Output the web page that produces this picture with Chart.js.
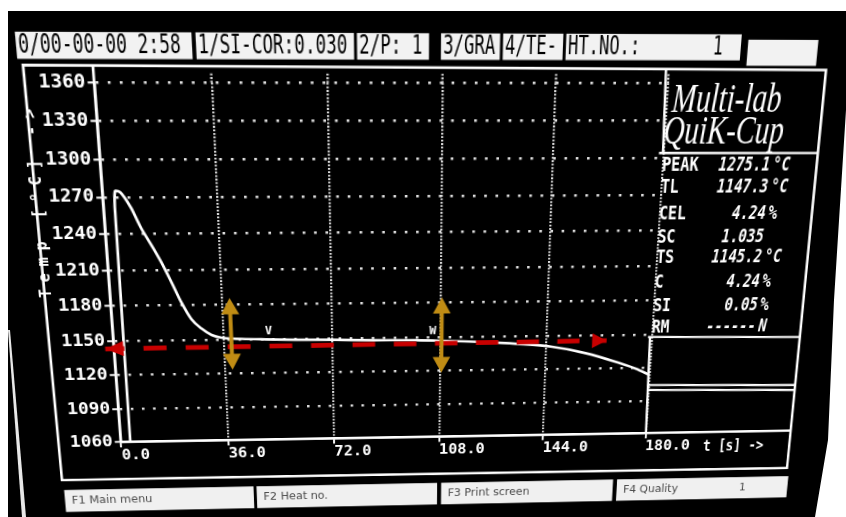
<!DOCTYPE html>
<html>
<head>
<meta charset="utf-8">
<title>Multi-lab QuiK-Cup</title>
<script src="https://cdn.jsdelivr.net/npm/chart.js@4.4.1/dist/chart.umd.min.js"></script>
<style>
  html, body { margin: 0; padding: 0; width: 846px; height: 517px; overflow: hidden; background: #fff; }
  #bezel { position: absolute; left: 0; top: 0; width: 846px; height: 517px; background: #000;
           clip-path: polygon(8px 11px, 846px 11px, 846px 110px, 834px 300px, 828px 440px, 815px 517px, 8px 517px); }
  #rim { position: absolute; left: 0; top: 0; width: 846px; height: 517px; background: #e8e8e8;
         clip-path: polygon(8px 330px, 10px 330px, 26px 517px, 22px 517px); }
  #trace { position: absolute; left: 0; top: 0; width: 846px; height: 570px; }
</style>
</head>
<body>
<div id="bezel"></div>
<div id="rim"></div>
<canvas id="trace" width="846" height="570"></canvas>
<script>
// ---------------- data ----------------
// cooling curve of the cup: time [s] and temperature [°C]
const timeS = [3.2, 3.6, 4.2, 5.6, 8.6, 11.4, 14.4, 17.2, 20.1, 23.0, 25.9, 29.0, 32.2, 35.4,
               42, 50, 60, 72, 86, 100, 108, 122, 134, 146, 157.5, 169, 175, 180];
const tempC = [1060, 1262, 1275.1, 1274, 1261.7, 1245, 1230.5, 1216.3, 1199.4, 1181.8, 1167.8, 1159.7, 1154, 1151.5,
               1150.3, 1149.6, 1149, 1148.5, 1147.8, 1147.3, 1146.6, 1145, 1143, 1140, 1134, 1125, 1119.5, 1113.5];
const timeTicks = [0, 36, 72, 108, 144, 180];
const tempTicks = [1060, 1090, 1120, 1150, 1180, 1210, 1240, 1270, 1300, 1330, 1360];

// liquidus arrow (left tip, right tip)
const tlTime = [-2.8, 164.5];
const tlTemp = [1143, 1145];
// arrest brackets
const arrestTime = [38.6, 108.5];
const arrestHigh = [1185.7, 1184.4];
const arrestLow  = [1123.4, 1118.2];
// small tags on the curve
const tagTime = [51, 105.5];
const tagTemp = [1157, 1155];
const tagText = ['V', 'W'];

// result table
const statNames  = ['PEAK', 'TL', 'CEL', 'SC', 'TS', 'C', 'SI', 'RM'];
const statValues = ['1275.1', '1147.3', '4.24', '1.035', '1145.2', '4.24', '0.05', '------'];
const statUnits  = ['°C', '°C', '%', '', '°C', '%', '%', 'N'];
const headerItems = ['0/00-00-00 2:58', '1/SI-COR:0.030', '2/P: 1', '3/GRA', '4/TE-', 'HT.NO.:', ''];
const heatNo = '1';
const keyItems = ['F1 Main menu', 'F2 Heat no.', 'F3 Print screen', 'F4 Quality'];
const qualityNo = '1';

// ---------------- monitor face geometry ----------------
// The display face is drawn in perspective: a monitor seen slightly from below and from the left.
const OX = 423, OY = 262, DEPTH = 1000, TILT_X = -14, TILT_Y = 3, ROLL = 0.27;
const canvas = document.getElementById('trace');
canvas.style.transformOrigin = OX + 'px ' + OY + 'px';
canvas.style.transform = `rotate(${ROLL}deg) perspective(${DEPTH}px) rotateX(${TILT_X}deg) rotateY(${TILT_Y}deg)`;

const rad = Math.PI / 180;
const sa = Math.sin(TILT_X * rad), ca = Math.cos(TILT_X * rad);
const sb = Math.sin(TILT_Y * rad), cb = Math.cos(TILT_Y * rad);
const H = [[cb, 0, 0], [sa * sb, ca, 0], [ca * sb / DEPTH, -sa / DEPTH, 1]];
function inv3(m) {
  const [a, b, c] = m[0], [d, e, f] = m[1], [g, h, i] = m[2];
  const A = e * i - f * h, B = -(d * i - f * g), C = d * h - e * g;
  const det = a * A + b * B + c * C;
  return [
    [A / det, -(b * i - c * h) / det, (b * f - c * e) / det],
    [B / det, (a * i - c * g) / det, -(a * f - c * d) / det],
    [C / det, -(a * h - b * g) / det, (a * e - b * d) / det]
  ];
}
const HI = inv3(H);
// screen position on the face -> drawing position on the canvas
function T(x, y) {
  const X = x - OX, Y = y - OY;
  const cr = Math.cos(-ROLL * rad), sr = Math.sin(-ROLL * rad);
  const Xr = X * cr - Y * sr, Yr = X * sr + Y * cr;
  const u = HI[0][0] * Xr + HI[0][1] * Yr + HI[0][2];
  const v = HI[1][0] * Xr + HI[1][1] * Yr + HI[1][2];
  const w = HI[2][0] * Xr + HI[2][1] * Yr + HI[2][2];
  return { x: OX + u / w, y: OY + v / w };
}

// layout on the face
const FRAME = [[23, 65], [826, 70], [787, 468], [62, 480]];
const HEADER_X = [[16, 192], [196, 354], [357, 429], [441, 500], [503, 563], [566, 741], [748, 818]];
const KEY_X = [[65, 254], [257, 437], [441, 612], [616, 786]];
const STAT_Y = [166, 188, 214, 237, 258, 282, 306, 327];

const cBL = T(120, 443), cTL = T(95, 82.5), cBR = T(646, 432);
const AREA = { left: (cBL.x + cTL.x) / 2, top: cTL.y, right: cBR.x, bottom: (cBL.y + cBR.y) / 2 };
const YW = 60, XH = 30;

const WHITE = '#ffffff', ROW_DOTS = '#e0e0e0', COL_DOTS = '#dadada';
const RED = '#c80000', GOLD = '#c08c14';
const MONO = '"DejaVu Sans Mono", "Liberation Mono", monospace';

function seg(ctx, a, b) {
  const p = T(a[0], a[1]), q = T(b[0], b[1]);
  ctx.beginPath(); ctx.moveTo(p.x, p.y); ctx.lineTo(q.x, q.y); ctx.stroke();
}
function word(ctx, s, x, y, font, color, sx, align, base) {
  ctx.save();
  ctx.translate(x, y); ctx.scale(sx, 1);
  ctx.font = font; ctx.fillStyle = color;
  ctx.textAlign = align || 'left'; ctx.textBaseline = base || 'middle';
  ctx.fillText(s, 0, 0);
  ctx.restore();
}
function tri(ctx, a, b, c, color) {
  ctx.beginPath(); ctx.moveTo(a.x, a.y); ctx.lineTo(b.x, b.y); ctx.lineTo(c.x, c.y); ctx.closePath();
  ctx.fillStyle = color; ctx.fill();
}

// frame, panel rules and grid extensions
const facePlugin = {
  id: 'face',
  beforeDatasetsDraw(chart) {
    const ctx = chart.ctx, a = chart.chartArea, xs = chart.scales.x;
    ctx.save();
    // time grid continues up to the frame
    ctx.strokeStyle = COL_DOTS; ctx.lineWidth = 2.2; ctx.setLineDash([1.8, 1.6]);
    const gTop = T(400, 73).y;
    timeTicks.slice(1).forEach(v => {
      const x = xs.getPixelForValue(v);
      ctx.beginPath(); ctx.moveTo(x, a.top); ctx.lineTo(x, gTop); ctx.stroke();
    });
    ctx.setLineDash([]);
    ctx.strokeStyle = WHITE; ctx.lineWidth = 2.6;
    // temperature axis up to the frame
    ctx.beginPath(); ctx.moveTo(a.left, a.bottom); ctx.lineTo(a.left, T(95, 66).y); ctx.stroke();
    // time axis on to the right edge
    const xr = T(790, 432);
    ctx.beginPath(); ctx.moveTo(a.left, a.bottom); ctx.lineTo(xr.x, a.bottom); ctx.stroke();
    // outer frame
    ctx.beginPath();
    FRAME.forEach((p, i) => { const q = T(p[0], p[1]); i ? ctx.lineTo(q.x, q.y) : ctx.moveTo(q.x, q.y); });
    ctx.closePath(); ctx.stroke();
    // right panel
    ctx.lineWidth = 2.4;
    seg(ctx, [666, 70], [663, 153]);
    seg(ctx, [659, 153], [818, 153]);
    seg(ctx, [648, 337], [800, 337]);
    seg(ctx, [648, 385], [796, 385]);
    seg(ctx, [647, 390], [795, 390]);
    seg(ctx, [650, 337], [646, 432]);
    ctx.restore();
  },
  afterDatasetsDraw(chart) {
    const ctx = chart.ctx, xs = chart.scales.x, ys = chart.scales.y;
    ctx.save();
    // liquidus arrow heads
    const pts = chart.getDatasetMeta(1).data;
    const p0 = pts[0], p1 = pts[1];
    const len = Math.hypot(p1.x - p0.x, p1.y - p0.y);
    const ux = (p1.x - p0.x) / len, uy = (p1.y - p0.y) / len, nx = -uy, ny = ux;
    const b0 = { x: p0.x + ux * 18, y: p0.y + uy * 18 };
    tri(ctx, p0, { x: b0.x + nx * 8, y: b0.y + ny * 8 }, { x: b0.x - nx * 8, y: b0.y - ny * 8 }, RED);
    const b1 = { x: p1.x - ux * 15, y: p1.y - uy * 15 };
    tri(ctx, p1, { x: b1.x + nx * 8, y: b1.y + ny * 8 }, { x: b1.x - nx * 8, y: b1.y - ny * 8 }, RED);
    // arrest brackets
    arrestTime.forEach((t, i) => {
      const x = xs.getPixelForValue(t);
      const yt = ys.getPixelForValue(arrestHigh[i]), yb = ys.getPixelForValue(arrestLow[i]);
      ctx.strokeStyle = GOLD; ctx.lineWidth = 4;
      ctx.beginPath(); ctx.moveTo(x, yt + 14); ctx.lineTo(x, yb - 14); ctx.stroke();
      tri(ctx, { x: x, y: yt }, { x: x - 9, y: yt + 17 }, { x: x + 9, y: yt + 17 }, GOLD);
      tri(ctx, { x: x, y: yb }, { x: x - 9, y: yb - 17 }, { x: x + 9, y: yb - 17 }, GOLD);
    });
    // tags
    tagTime.forEach((t, i) => {
      word(ctx, tagText[i], xs.getPixelForValue(t), ys.getPixelForValue(tagTemp[i]),
           'bold 13px ' + MONO, WHITE, 0.9, 'center', 'middle');
    });
    ctx.restore();
  },
  afterDraw(chart) {
    const ctx = chart.ctx;
    ctx.save();
    // status line
    const sTop = T(100, 32).y, sBot = T(100, 59).y, sMid = (sTop + sBot) / 2 + 1;
    HEADER_X.forEach(([l, r], i) => {
      const x0 = T(l, 45).x, x1 = T(r, 45).x;
      ctx.fillStyle = '#f2f2f2';
      ctx.fillRect(x0, i === HEADER_X.length - 1 ? sTop + 5 : sTop, x1 - x0, sBot - sTop);
      if (headerItems[i]) word(ctx, headerItems[i], x0 + 2, sMid, '24px ' + MONO, '#000', 0.69);
    });
    word(ctx, heatNo, T(713, 45).x, sMid, '24px ' + MONO, '#000', 0.69);

    // instrument name
    const f1 = T(726, 112), f2 = T(723, 144);
    word(ctx, 'Multi-lab', f1.x, f1.y, 'italic 40px "Liberation Serif", serif', WHITE, 0.72, 'center', 'alphabetic');
    word(ctx, 'QuiK-Cup', f2.x, f2.y, 'italic 40px "Liberation Serif", serif', WHITE, 0.72, 'center', 'alphabetic');

    // result table
    const xName = T(662, 166).x, xVal = T(770, 166).x, xUnit = T(773, 166).x;
    statNames.forEach((n, i) => {
      const y = T(700, STAT_Y[i]).y;
      word(ctx, n, xName, y, 'bold 20px ' + MONO, WHITE, 0.76);
      word(ctx, statValues[i], xVal, y, 'italic bold 20px ' + MONO, WHITE, 0.72, 'right');
      if (statUnits[i]) word(ctx, statUnits[i], xUnit, y, 'italic bold 20px ' + MONO, WHITE, 0.72);
    });

    // axis names
    const tp = T(703, 447);
    word(ctx, 't [s] ->', tp.x, tp.y, 'bold 17px ' + MONO, WHITE, 0.8);
    const yp = T(39, 202);
    ctx.save();
    ctx.translate(yp.x, yp.y); ctx.rotate(-Math.PI / 2);
    ctx.font = 'bold 15px ' + MONO; ctx.fillStyle = WHITE;
    ctx.textAlign = 'center'; ctx.textBaseline = 'middle';
    ctx.letterSpacing = '7px';
    ctx.fillText('Temp [°C] ->', 0, 0);
    ctx.restore();

    // function keys
    const kTop = T(65, 490).y, kBot = T(65, 512).y, kMid = (kTop + kBot) / 2;
    KEY_X.forEach(([l, r], i) => {
      const x0 = T(l, 500).x, x1 = T(r, 500).x;
      ctx.fillStyle = '#f0f0f0';
      ctx.fillRect(x0, kTop, x1 - x0, kBot - kTop);
      word(ctx, keyItems[i], x0 + 7, kMid, '13px "DejaVu Sans", sans-serif', '#4a4a4a', 0.9);
    });
    word(ctx, qualityNo, T(738, 500).x, kMid, '13px "DejaVu Sans", sans-serif', '#4a4a4a', 0.9);
    ctx.restore();
  }
};

new Chart(canvas, {
  type: 'line',
  data: {
    datasets: [
      {
        label: 'Temp',
        data: timeS.map((t, i) => ({ x: t, y: tempC[i] })),
        borderColor: WHITE, borderWidth: 2.7, pointRadius: 0,
        cubicInterpolationMode: 'monotone', order: 1
      },
      {
        label: 'TL',
        data: tlTime.map((t, i) => ({ x: t, y: tlTemp[i] })),
        borderColor: RED, borderWidth: 5, borderDash: [23, 19], borderDashOffset: 4,
        pointRadius: 0, clip: false, order: 0
      }
    ]
  },
  options: {
    responsive: false, animation: false, devicePixelRatio: 1,
    layout: {
      padding: {
        left: AREA.left - YW, top: AREA.top,
        right: 846 - AREA.right, bottom: 570 - AREA.bottom - XH
      }
    },
    plugins: { legend: { display: false }, tooltip: { enabled: false } },
    scales: {
      x: {
        type: 'linear', min: 0, max: 180,
        afterBuildTicks: s => { s.ticks = timeTicks.map(v => ({ value: v })); },
        afterFit: s => { s.height = XH; },
        grid: {
          color: c => (c.tick && c.tick.value === 0) ? 'rgba(0,0,0,0)' : COL_DOTS,
          lineWidth: 2.2, drawTicks: true, tickLength: 6, tickColor: WHITE, tickWidth: 2
        },
        border: { display: true, color: WHITE, width: 2.6, dash: [1.8, 1.6] },
        ticks: {
          align: 'start', color: WHITE, padding: 0, maxRotation: 0, minRotation: 0, autoSkip: false,
          font: { family: MONO, size: 16, weight: 'bold' },
          callback: v => Number(v).toFixed(1)
        }
      },
      y: {
        type: 'linear', min: 1060, max: 1360,
        afterBuildTicks: s => { s.ticks = tempTicks.map(v => ({ value: v })); },
        afterFit: s => { s.width = YW; },
        grid: {
          color: c => (c.tick && c.tick.value === 1060) ? 'rgba(0,0,0,0)' : ROW_DOTS,
          lineWidth: 2.6, drawTicks: true, tickLength: 6, tickColor: WHITE, tickWidth: 2
        },
        border: { display: true, color: WHITE, width: 2.6, dash: [2.6, 8.6] },
        ticks: {
          color: WHITE, padding: 2, autoSkip: false,
          font: { family: MONO, size: 18, weight: 'bold' },
          callback: v => String(v)
        }
      }
    }
  },
  plugins: [facePlugin]
});
</script>
</body>
</html>
